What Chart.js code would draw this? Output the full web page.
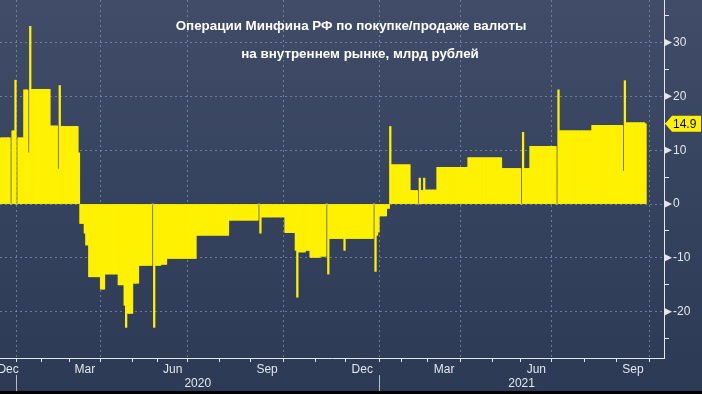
<!DOCTYPE html>
<html>
<head>
<meta charset="utf-8">
<script src="https://cdn.jsdelivr.net/npm/chart.js@4.4.1/dist/chart.umd.min.js"></script>
<style>
  html, body { margin: 0; padding: 0; background: #000; }
  #wrap { width: 702px; height: 391px; position: relative; }
</style>
</head>
<body>
<div id="wrap"><canvas id="chart"></canvas></div>
<script>
// Moscow exchange holidays (weekdays with no bar)
const holidays = [
  "2019-12-31", "2020-01-01", "2020-01-02", "2020-01-03", "2020-01-06", "2020-01-07", "2020-01-08",
  "2020-02-24", "2020-03-09", "2020-05-01", "2020-05-04", "2020-05-05", "2020-05-11",
  "2020-06-12", "2020-06-24", "2020-07-01", "2020-11-04",
  "2021-01-01", "2021-01-04", "2021-01-05", "2021-01-06", "2021-01-07", "2021-01-08",
  "2021-02-22", "2021-02-23", "2021-03-08", "2021-05-03", "2021-05-10", "2021-06-14"
];
const firstDay = "2019-12-16";
const lastDay = "2021-10-14";
const lastDataDay = "2021-09-28";

// daily amount, bn rub: each value holds from its date until the next date
const stepDates = [
  "2019-12-16", "2019-12-25", "2019-12-26", "2019-12-30", "2020-01-09", "2020-01-10", "2020-01-16",
  "2020-01-21", "2020-01-22", "2020-01-23", "2020-02-11", "2020-02-18", "2020-02-19", "2020-02-20",
  "2020-03-11", "2020-03-12", "2020-03-17", "2020-03-18", "2020-03-20", "2020-04-01", "2020-04-06",
  "2020-04-17", "2020-04-23", "2020-04-24", "2020-04-27", "2020-05-06", "2020-05-13", "2020-05-26",
  "2020-05-27", "2020-05-28", "2020-06-03", "2020-06-09", "2020-07-10", "2020-08-11", "2020-09-08",
  "2020-09-09", "2020-09-10", "2020-10-02", "2020-10-13", "2020-10-14", "2020-10-15", "2020-10-22",
  "2020-10-27", "2020-11-06", "2020-11-12", "2020-11-13", "2020-11-16", "2020-11-30", "2020-12-01",
  "2020-12-28", "2020-12-29", "2020-12-30", "2020-12-31", "2021-01-11", "2021-01-18", "2021-01-20",
  "2021-01-21", "2021-02-09", "2021-02-16", "2021-02-17", "2021-02-18", "2021-02-24", "2021-02-25",
  "2021-03-10", "2021-04-08", "2021-05-13", "2021-06-01", "2021-06-02", "2021-06-03", "2021-06-09",
  "2021-07-06", "2021-07-07", "2021-07-08", "2021-08-09", "2021-09-07", "2021-09-08", "2021-09-09",
  "2021-09-28"
];
const stepValues = [
  12.3, 0, 13.6, 23, 0, 12.3, 21.2,
  9.5, 33, 21.3, 14.5, 6.5, 22, 14.4,
  9.5, -3.6, -5.4, -7.6, -13.5, -15.8, -13,
  -15, -18.8, -22.9, -20.3, -14.7, -11.4, 0,
  -22.9, -11.4, -11.2, -10.1, -5.8, -3.0, 0,
  -5.4, -2.4, -5.3, -8.6, -17.3, -8.9, -8.6,
  -9.9, -9.7, 0, -13, -6.4, -8.6, -6.4,
  0, -12.5, -5.8, -5.2, -2.2, -0.8, 14.4,
  7.3, 2.5, 0, 4.8, 2.5, 4.8, 2.6,
  6.8, 8.6, 6.6, 0, 13.3, 6.6, 10.7,
  0, 21.2, 13.6, 14.6, 6.1, 22.9, 15.1,
  14.9
];

const titleLines = ["Операции Минфина РФ по покупке/продаже валюты", "на внутреннем рынке, млрд рублей"];
const monthNames = ["Jan", "Feb", "Mar", "Apr", "May", "Jun", "Jul", "Aug", "Sep", "Oct", "Nov", "Dec"];
const labelMonths = [3, 6, 9, 12];
const yTicks = [-25, -20, -15, -10, -5, 0, 5, 10, 15, 20, 25, 30, 35];
const lastValue = 14.9;

const BAR = "#fff100";
const GRID = "rgba(125,145,175,0.75)";
const AXIS = "#e4e6ea";
const FONT = "'Liberation Sans', Arial, sans-serif";

function tradingDays() {
  const out = [];
  const d = new Date(firstDay + "T00:00:00Z");
  const end = new Date(lastDay + "T00:00:00Z");
  while (d <= end) {
    const iso = d.toISOString().slice(0, 10);
    const wd = d.getUTCDay();
    if (wd !== 0 && wd !== 6 && !holidays.includes(iso)) out.push(iso);
    d.setUTCDate(d.getUTCDate() + 1);
  }
  return out;
}

const days = tradingDays();
const values = days.map(day => {
  if (day > lastDataDay) return null;
  let v = null;
  stepDates.forEach((s, k) => { if (s <= day) v = stepValues[k]; });
  return v;
});

// month boundaries, quarter gridlines, month and year labels
function buildXTicks(scale) {
  const list = [];
  const months = {};
  const years = {};
  days.forEach((day, j) => {
    const mk = day.slice(0, 7), yk = day.slice(0, 4);
    if (!months[mk]) months[mk] = [j, j]; else months[mk][1] = j;
    if (!years[yk]) years[yk] = [j, j]; else years[yk][1] = j;
    if (j > 0 && mk !== days[j - 1].slice(0, 7)) {
      const m = +day.slice(5, 7);
      list.push({ value: j - 0.5, kind: (m - 1) % 3 === 0 ? "quarter" : "month", text: "" });
    }
  });
  Object.keys(months).forEach(mk => {
    const m = +mk.slice(5, 7);
    const [a, b] = months[mk];
    if (labelMonths.includes(m) && b - a > 5) list.push({ value: (a + b) / 2, kind: "label", text: monthNames[m - 1] });
  });
  Object.keys(years).forEach(yk => {
    const [a, b] = years[yk];
    if (b - a > 30) list.push({ value: (a + b) / 2, kind: "label", text: ["", yk] });
  });
  scale.ticks = list;
}

const backdrop = {
  id: "backdrop",
  beforeDraw(chart) {
    const { ctx, width, height } = chart;
    const g = ctx.createLinearGradient(0, 0, 0, height);
    g.addColorStop(0, "#404c68");
    g.addColorStop(1, "#2c3a56");
    ctx.save();
    ctx.fillStyle = g;
    ctx.fillRect(0, 0, width, height);
    ctx.restore();
  }
};

const decorations = {
  id: "decorations",
  afterDraw(chart) {
    const { ctx, chartArea } = chart;
    const x = chart.scales.x, y = chart.scales.y;
    ctx.save();

    // title
    ctx.fillStyle = "#ffffff";
    ctx.font = "bold 13.4px " + FONT;
    ctx.textAlign = "center";
    ctx.textBaseline = "middle";
    ctx.fillText(titleLines[0], 351, 26);
    ctx.fillText(titleLines[1], 360, 54);

    // arrow heads on the major y ticks
    ctx.fillStyle = AXIS;
    yTicks.filter(v => v % 10 === 0).forEach(v => {
      const py = y.getPixelForValue(v);
      ctx.beginPath();
      ctx.moveTo(chartArea.right, py - 4);
      ctx.lineTo(chartArea.right + 8, py);
      ctx.lineTo(chartArea.right, py + 4);
      ctx.closePath();
      ctx.fill();
    });

    // year separators under the axis
    ctx.strokeStyle = "#b8bcc6";
    ctx.lineWidth = 1;
    days.forEach((day, j) => {
      if (j > 0 && day.slice(0, 4) !== days[j - 1].slice(0, 4)) {
        const px = Math.round(x.getPixelForValue(j - 0.5)) + 0.5;
        ctx.beginPath();
        ctx.moveTo(px, chartArea.bottom + 17);
        ctx.lineTo(px, chart.height);
        ctx.stroke();
      }
    });

    // last value flag
    const ly = y.getPixelForValue(lastValue);
    const lx = chartArea.right + 1;
    ctx.fillStyle = BAR;
    ctx.beginPath();
    ctx.moveTo(lx, ly);
    ctx.lineTo(lx + 7, ly - 8);
    ctx.lineTo(lx + 36, ly - 8);
    ctx.lineTo(lx + 36, ly + 8);
    ctx.lineTo(lx + 7, ly + 8);
    ctx.closePath();
    ctx.fill();
    ctx.fillStyle = "#000";
    ctx.font = "12px " + FONT;
    ctx.textAlign = "left";
    ctx.fillText(lastValue.toFixed(1), lx + 8, ly + 1);
    ctx.restore();
  }
};

new Chart(document.getElementById("chart"), {
  type: "bar",
  data: {
    labels: days,
    datasets: [{
      data: values,
      backgroundColor: BAR,
      borderWidth: 0,
      inflateAmount: 0.4,
      barPercentage: 1,
      categoryPercentage: 1
    }]
  },
  options: {
    responsive: true,
    maintainAspectRatio: false,
    animation: false,
    events: [],
    layout: { padding: 0 },
    plugins: { legend: { display: false }, tooltip: { enabled: false }, title: { display: false } },
    scales: {
      x: {
        type: "category",
        offset: true,
        afterBuildTicks: buildXTicks,
        afterFit: s => { s.height = 33; s.paddingLeft = 0; s.paddingRight = 0; },
        grid: {
          offset: false,
          color: c => (c.tick && c.tick.kind === "quarter") ? GRID : "transparent",
          tickColor: c => (c.tick && c.tick.kind !== "label") ? AXIS : "transparent",
          tickLength: 4,
          lineWidth: 1
        },
        border: { color: AXIS, width: 1, dash: [2, 3] },
        ticks: {
          autoSkip: false,
          maxRotation: 0,
          minRotation: 0,
          padding: 0,
          color: AXIS,
          font: { family: FONT, size: 12 },
          callback: (v, i, ticks) => ticks[i].text
        }
      },
      y: {
        position: "right",
        min: -28.6,
        max: 37.9,
        afterBuildTicks: s => { s.ticks = yTicks.map(v => ({ value: v })); },
        afterFit: s => { s.width = 38; s.paddingTop = 0; s.paddingBottom = 0; },
        grid: {
          color: c => (c.tick && c.tick.value % 10 === 0) ? GRID : "transparent",
          tickColor: c => (c.tick && c.tick.value % 10 !== 0) ? AXIS : "transparent",
          tickLength: 5,
          lineWidth: 1
        },
        border: { color: AXIS, width: 1, dash: [2, 3] },
        ticks: {
          padding: 4,
          color: AXIS,
          font: { family: FONT, size: 12 },
          callback: v => (v % 10 === 0 ? String(v) : "")
        }
      }
    }
  },
  plugins: [backdrop, decorations]
});
</script>
</body>
</html>
